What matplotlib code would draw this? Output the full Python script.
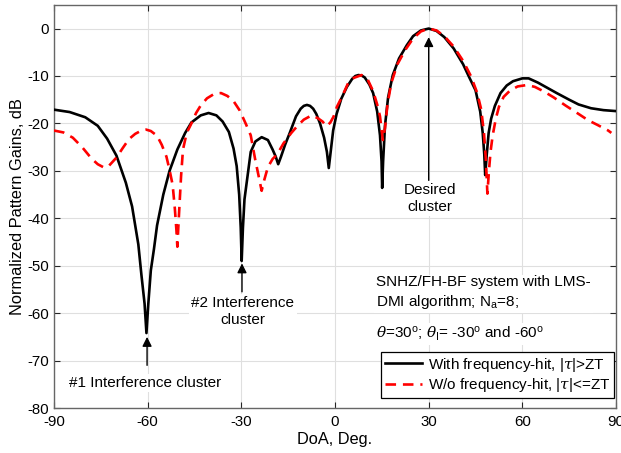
import numpy as np
import matplotlib
matplotlib.use("Agg")
import matplotlib.pyplot as plt

plt.rcParams['font.family'] = ['Liberation Sans', 'DejaVu Sans']
plt.rcParams['mathtext.fontset'] = 'custom'
plt.rcParams['mathtext.rm'] = 'Liberation Sans'
plt.rcParams['mathtext.it'] = 'DejaVu Serif:italic'
plt.rcParams['axes.unicode_minus'] = False

# black curve: with frequency-hit
doa_hit = [-90, -85, -80, -76, -73, -70, -67, -65, -63, -62, -61, -60.4, -59.8, -59, -58, -57,
           -55, -53, -50.5, -48, -46, -43, -40.5, -38, -36, -34, -32.5, -31.5, -30.7, -30.2,
           -29.9, -29.5, -29, -28.2, -27, -25.5, -23.5, -21.5, -20, -19, -18.2, -17.3, -16,
           -14.5, -12.5, -11, -10, -9, -8, -7, -6, -4.8, -3.5, -2.6, -2, -1.4, -0.6, 0.5, 2,
           3.8, 5.5, 6.5, 7.5, 8.5, 9.5, 11, 12.2, 13.5, 14.4, 14.9, 15.1, 15.4, 16, 17, 18.5,
           20.5, 23, 25, 27.5, 30, 32.5, 35, 38, 41, 43, 45, 46.5, 47.3, 47.8, 48.1, 48.6,
           49.2, 50, 51.2, 53, 55, 57, 60, 62, 65, 68, 71, 75, 78, 82, 86, 90]
gain_hit = [-17.1, -17.6, -18.7, -20.5, -23.2, -26.8, -32.5, -37.5, -45.5, -52, -58, -64.2, -58,
            -51, -46.5, -41.5, -35, -30, -25.5, -22, -19.8, -18.3, -17.8, -18.3, -19.6, -21.8,
            -25.3, -29, -35, -42, -49, -42, -36, -32, -26, -23.8, -22.9, -23.5, -25.5, -27,
            -28.6, -27, -24.5, -22, -18.5, -16.9, -16.3, -16.1, -16.3, -16.9, -18, -20, -23,
            -26, -29.4, -26, -21.5, -18, -14.8, -12.3, -10.6, -10.0, -9.8, -9.9, -10.3, -11.8,
            -13.6, -17.5, -22.5, -28, -33.6, -28, -20.5, -14.5, -9.8, -6.3, -3.5, -1.6, -0.4,
            0, -0.5, -1.8, -4.2, -7.5, -10.3, -13, -17.5, -22, -26.5, -30.9, -26.5, -22, -19,
            -16.3, -13.6, -12, -11.1, -10.5, -10.5, -11.4, -12.5, -13.6, -15, -16, -16.8,
            -17.2, -17.4]

# red dashed curve: without frequency-hit
doa_nohit = [-90, -87, -84, -81, -78, -76, -74, -72.5, -70, -68, -66, -64, -62, -60.5, -59, -57,
             -55.5, -54, -53, -52, -51.3, -50.8, -50.5, -50.2, -49.8, -49.3, -48.7, -47.5, -46,
             -44.5, -43, -41, -38.5, -36.5, -34.5, -32.5, -30.5, -28.5, -27, -25.6, -24.5,
             -23.5, -22.7, -21.5, -20, -18.5, -16.5, -14, -12, -10, -7.5, -5.5, -4, -2.7,
             -1.5, -0.5, 0.6, 2.2, 4.2, 6, 8.5, 10.5, 12.2, 13.5, 14.4, 15.3, 16, 16.8, 18,
             20, 22.5, 25, 27.5, 30, 32.5, 35, 38, 41, 43.5, 45.5, 46.8, 47.7, 48.3, 48.8,
             49.3, 49.8, 50.5, 51.5, 52.5, 54, 56, 58.5, 61.5, 64, 67, 70, 74, 78, 81, 84,
             87.5, 88.5]
gain_nohit = [-21.5, -21.9, -23, -25, -27.4, -28.6, -29.3, -29, -27.2, -25.2, -23.3, -22.2,
              -21.5, -21.3, -21.6, -22.6, -24.5, -27, -29.8, -33, -38, -42.5, -46, -42, -37,
              -31, -25.5, -22, -20, -17.8, -16.2, -14.7, -13.7, -13.6, -14.2, -15.3, -17.3,
              -20.2, -22.5, -27.5, -31, -34.2, -32, -29.2, -27.5, -26.5, -24.2, -22, -20.5,
              -19.2, -18.3, -18.9, -19.6, -20.6, -19.8, -18.6, -16.5, -14.4, -11.5, -10.4,
              -9.8, -10.8, -13.2, -16, -18.5, -23.5, -21, -16, -11.5, -7.5, -4.5, -2.1, -0.6,
              0, -0.4, -1.6, -3.8, -6.8, -10, -13.5, -17, -22, -27.5, -34.8, -30, -26, -22.5,
              -19, -16.5, -14.4, -13.1, -12.2, -11.9, -12.3, -13.3, -14.5, -16.3, -18, -19.3,
              -20.3, -21.5, -22]

xticks = [-90, -60, -30, 0, 30, 60, 90]
yticks = [0, -10, -20, -30, -40, -50, -60, -70, -80]


def main():
    fig = plt.figure(figsize=(6.21, 4.53), dpi=100)
    ax = fig.add_axes([0.087, 0.0993, 0.905, 0.89])

    ax.plot(doa_hit, gain_hit, color='black', lw=1.9,
            label=r'With frequency-hit, |$\tau$|>ZT', zorder=3)
    ax.plot(doa_nohit, gain_nohit, color='red', lw=1.9, dashes=(4, 2.6),
            label=r'W/o frequency-hit, |$\tau$|<=ZT', zorder=3)

    ax.set_xlim(-90, 90)
    ax.set_ylim(-80, 5)
    ax.set_xticks(xticks)
    ax.set_yticks(yticks)
    ax.grid(True, color='#dfdfdf', lw=0.8)
    ax.set_axisbelow(True)
    ax.tick_params(direction='in', top=True, right=True, labelsize=10.8,
                   color='#262626', length=4)
    ax.tick_params(axis='x', pad=5)
    for s in ax.spines.values():
        s.set_color('#666666')
        s.set_linewidth(1.0)
    ax.set_xlabel('DoA, Deg.', fontsize=11.8, labelpad=2)
    ax.set_ylabel('Normalized Pattern Gains, dB', fontsize=11.8, labelpad=2)

    white = dict(facecolor='white', edgecolor='none', pad=1.5)
    arrow = dict(arrowstyle='-|>', color='black', lw=1.0,
                 mutation_scale=14, shrinkA=0, shrinkB=0)

    ax.annotate('', xy=(-60.2, -65), xytext=(-60.2, -71), arrowprops=arrow, zorder=5)
    ax.text(-60.8, -74.8, '#1 Interference cluster', ha='center', va='center',
            fontsize=11, bbox=white, zorder=4)

    ax.annotate('', xy=(-29.8, -49.5), xytext=(-29.8, -55.5), arrowprops=arrow, zorder=5)
    ax.text(-29.5, -59.6, '#2 Interference\ncluster', ha='center', va='center',
            fontsize=11, linespacing=1.25, bbox=white, zorder=4)

    ax.annotate('', xy=(30, -1.8), xytext=(30, -32), arrowprops=arrow, zorder=5)
    ax.text(30.3, -35.8, 'Desired\ncluster', ha='center', va='center',
            fontsize=11, linespacing=1.25, bbox=white, zorder=4)

    ax.text(13.2, -52.0, 'SNHZ/FH-BF system with LMS-\nDMI algorithm; N$_{\\rm a}$=8;',
            ha='left', va='top', fontsize=11, linespacing=1.3, bbox=white, zorder=4)
    ax.text(13.2, -64.4,
            r'$\theta$=30$^{\rm o}$; $\theta_{\rm I}$= -30$^{\rm o}$ and -60$^{\rm o}$',
            ha='left', va='center', fontsize=11, bbox=white, zorder=4)

    leg = ax.legend(loc='lower right', bbox_to_anchor=(0.997, 0.025), fontsize=11,
                    frameon=True, fancybox=False, framealpha=1, edgecolor='black',
                    handlelength=2.4, borderpad=0.25, labelspacing=0.15, handletextpad=0.4,
                    borderaxespad=0.0)
    leg.get_frame().set_linewidth(0.9)
    leg.set_zorder(6)

    fig.savefig('out.png', dpi=100)


if __name__ == "__main__":
    main()
